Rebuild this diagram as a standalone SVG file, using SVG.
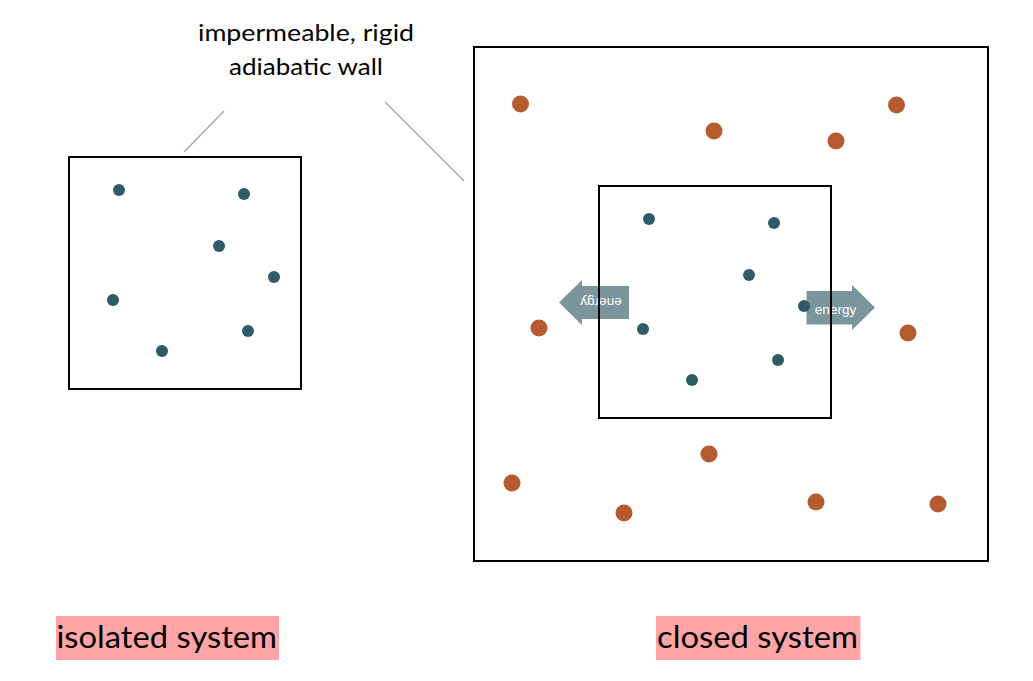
<svg xmlns="http://www.w3.org/2000/svg" width="1033" height="681" viewBox="0 0 1033 681">
<style>
.box{fill:none;stroke:#000;stroke-width:2}
.p{fill:#2f5b69}
.o{fill:#b65b30}
.lead{stroke:#a8a8a8;stroke-width:1.5}
.t{font-family:Lato,"Noto Sans",sans-serif;fill:#000}
.lab{fill:#ffa5a8}
.arr{fill:#7a959b}
.at{font-family:"Liberation Sans",Arial,sans-serif;font-size:13.5px;fill:#fff}
</style>
<rect width="1033" height="681" fill="#fff"/>
<g id="caption">
<text class="t" x="198" y="41" font-size="23" textLength="216" lengthAdjust="spacingAndGlyphs">impermeable, rigid</text>
<text class="t" x="229" y="75" font-size="23" textLength="154" lengthAdjust="spacingAndGlyphs">adiabatic wall</text>
</g>
<g id="connectors">
<line class="lead" x1="184" y1="152" x2="224" y2="111"/>
<line class="lead" x1="385" y1="102" x2="464" y2="181"/>
</g>
<g id="isolated-box">
<rect class="box" x="69" y="157" width="232" height="232"/>
<circle class="p" cx="119" cy="190" r="6"/>
<circle class="p" cx="244" cy="194" r="6"/>
<circle class="p" cx="219" cy="246" r="6"/>
<circle class="p" cx="274" cy="277" r="6"/>
<circle class="p" cx="113" cy="300" r="6"/>
<circle class="p" cx="248" cy="331" r="6"/>
<circle class="p" cx="162" cy="351" r="6"/>
</g>
<g id="closed-outer">
<rect class="box" x="474" y="47" width="514" height="514"/>
<circle class="o" cx="520.5" cy="104" r="8.5"/>
<circle class="o" cx="714" cy="131" r="8.5"/>
<circle class="o" cx="836" cy="141" r="8.5"/>
<circle class="o" cx="896.5" cy="105" r="8.5"/>
<circle class="o" cx="539" cy="328" r="8.5"/>
<circle class="o" cx="908" cy="333" r="8.5"/>
<circle class="o" cx="709" cy="454" r="8.5"/>
<circle class="o" cx="512" cy="483" r="8.5"/>
<circle class="o" cx="624" cy="513" r="8.5"/>
<circle class="o" cx="816" cy="502" r="8.5"/>
<circle class="o" cx="938" cy="504" r="8.5"/>
</g>
<g id="energy-out">
<polygon class="arr" points="629,286 582,286 582,280 559,302.5 582,325 582,319 629,319"/>
<text class="at" x="601" y="302.5" text-anchor="middle" transform="rotate(180 601 302.5)" dy="4.5">energy</text>
</g>
<g id="energy-in">
<polygon class="arr" points="806.5,291 852,291 852,285 875,307.5 852,330 852,324.5 806.5,324.5"/>
<text class="at" x="835.5" y="313.5" text-anchor="middle">energy</text>
</g>
<g id="closed-inner">
<rect class="box" x="599" y="186" width="232" height="232"/>
<circle class="p" cx="649" cy="219" r="6"/>
<circle class="p" cx="774" cy="223" r="6"/>
<circle class="p" cx="749" cy="275" r="6"/>
<circle class="p" cx="804" cy="306" r="6"/>
<circle class="p" cx="643" cy="329" r="6"/>
<circle class="p" cx="778" cy="360" r="6"/>
<circle class="p" cx="692" cy="380" r="6"/>
</g>
<g id="label-isolated">
<rect class="lab" x="56" y="616" width="223" height="44"/>
<text class="t" x="56.5" y="648" font-size="30" textLength="220.5" lengthAdjust="spacingAndGlyphs">isolated system</text>
</g>
<g id="label-closed">
<rect class="lab" x="656" y="616" width="204.5" height="44"/>
<text class="t" x="657" y="648" font-size="30" textLength="201" lengthAdjust="spacingAndGlyphs">closed system</text>
</g>
</svg>
